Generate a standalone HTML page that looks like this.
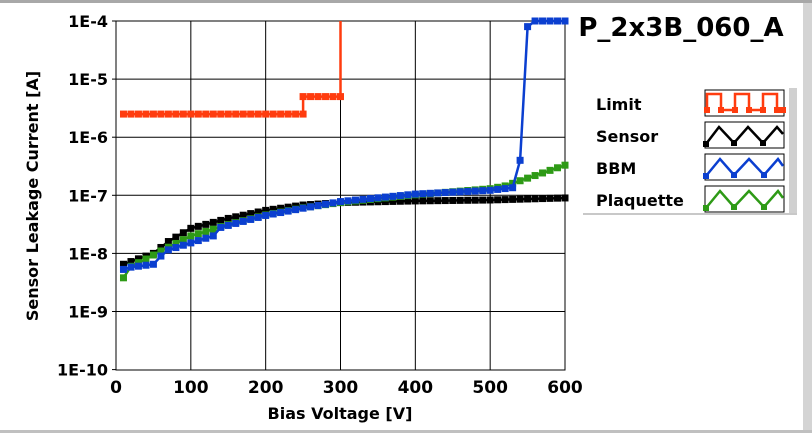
<!DOCTYPE html>
<html><head><meta charset="utf-8"><style>
html,body{margin:0;padding:0;background:#fff;}
svg{display:block;font-family:"DejaVu Sans","Liberation Sans",sans-serif;font-weight:bold;}
</style></head><body>
<svg id="s" width="812" height="433" xmlns="http://www.w3.org/2000/svg">
<rect x="0" y="0" width="812" height="3" fill="#a8a8a8"/>
<rect x="803" y="3" width="9" height="430" fill="#d4d4d4"/>
<rect x="0" y="430" width="812" height="3" fill="#c0c0c0"/>
<g id="grid"></g>
<rect x="116" y="21" width="449" height="349" fill="none" stroke="#000" stroke-width="1"/>
<g id="ser"></g>
<g font-size="16" text-anchor="end" id="yl"></g>
<g font-size="17" text-anchor="middle" id="xl"></g>
<text x="340" y="419" font-size="16" text-anchor="middle">Bias Voltage [V]</text>
<text transform="translate(38,196) rotate(-90)" font-size="16" text-anchor="middle">Sensor Leakage Current [A]</text>
<text x="681" y="36" font-size="26" text-anchor="middle">P_2x3B_060_A</text>
<rect x="583" y="88" width="206" height="127" fill="#fff"/>
<rect x="789" y="88" width="8" height="126" fill="#d0d0d0"/>
<rect x="583" y="213" width="214" height="2" fill="#c8c8c8"/>
<g font-size="16">
<text x="596" y="110">Limit</text>
<text x="596" y="142">Sensor</text>
<text x="596" y="174">BBM</text>
<text x="596" y="206">Plaquette</text>
</g>
<g id="leg"></g>
</svg>
<script>
const X=v=>116+v*449/600, Y=v=>21+(-4-Math.log10(v))*58.1;
const ns="http://www.w3.org/2000/svg";
function el(p,t,a){const e=document.createElementNS(ns,t);for(const k in a)e.setAttribute(k,a[k]);p.appendChild(e);return e;}
const g=document.getElementById('grid');
for(let i=1;i<6;i++)el(g,'line',{x1:X(i*100),x2:X(i*100),y1:21,y2:370,stroke:'#000','stroke-width':1});
for(let d=-9;d<=-5;d++)el(g,'line',{x1:116,x2:565,y1:Y(10**d),y2:Y(10**d),stroke:'#000','stroke-width':1});
const yl=document.getElementById('yl');
for(let d=-4;d>=-10;d--){const t=el(yl,'text',{x:108,y:Y(10**d)+6});t.textContent='1E'+d;el(yl,'line',{x1:112,x2:116,y1:Y(10**d),y2:Y(10**d),stroke:'#000'});}
const xl=document.getElementById('xl');
for(let i=0;i<=6;i++){const t=el(xl,'text',{x:X(i*100),y:393});t.textContent=i*100;}
function interp(pts,v){for(let i=0;i<pts.length-1;i++){const[a,ya]=pts[i],[b,yb]=pts[i+1];if(v>=a&&v<=b){const f=(v-a)/(b-a);return 10**(Math.log10(ya)+f*(Math.log10(yb)-Math.log10(ya)));}}return pts[pts.length-1][1];}
const sr=document.getElementById('ser');
function series(data,col){let d='';data.forEach(([v,i],k)=>{d+=(k?'L':'M')+X(v).toFixed(1)+','+Math.max(21,Y(i)).toFixed(1);});
el(sr,'path',{d:d,fill:'none',stroke:col,'stroke-width':2.5});
data.forEach(([v,i])=>{const y=Math.max(21,Y(i));el(sr,'rect',{x:X(v)-3.5,y:y-3.5,width:7,height:7,fill:col});});}
let lim=[];for(let v=10;v<=250;v+=10)lim.push([v,2.5e-6]);lim.push([250,5e-6]);for(let v=260;v<=300;v+=10)lim.push([v,5e-6]);
const sens=[[10,6.5e-9],[50,1e-8],[70,1.6e-8],[100,2.7e-8],[150,4e-8],[200,5.5e-8],[250,6.8e-8],[300,7.5e-8],[400,8e-8],[500,8.3e-8],[600,9e-8]];
const bbm=[[10,5.3e-9],[20,5.8e-9],[50,6.5e-9],[60,9e-9],[70,1.15e-8],[130,2e-8],[140,2.8e-8],[200,4.5e-8],[250,6e-8],[300,7.8e-8],[400,1.05e-7],[500,1.22e-7],[530,1.35e-7]];
const pl=[[10,3.8e-9],[20,6e-9],[40,8e-9],[60,1.1e-8],[100,2e-8],[130,2.6e-8],[140,2.9e-8],[200,4.6e-8],[250,6.1e-8],[300,7.5e-8],[400,1.02e-7],[500,1.3e-7],[520,1.45e-7],[600,3.3e-7]];
let P=[],B=[],S=[];
for(let v=10;v<=600;v+=10){S.push([v,interp(sens,v)]);P.push([v,interp(pl,v)]);if(v<=530)B.push([v,interp(bbm,v)]);}
B.push([540,4e-7],[550,8e-5]);for(let v=560;v<=600;v+=10)B.push([v,1e-4]);
series(S,'#000');series(P,'#2e9a16');series(B,'#0b3fd0');series(lim,'#ff3c0f');
el(sr,'line',{x1:X(300),x2:X(300),y1:21,y2:Y(5e-6),stroke:'#ff3c0f','stroke-width':2.5});
const lg=document.getElementById('leg');
const sw=[[90,'#ff3c0f','sq'],[122,'#000','tri'],[154,'#0b3fd0','tri2'],[186,'#2e9a16','tri2']];
sw.forEach(([y,c,t])=>{el(lg,'rect',{x:705,y:y,width:79,height:26,fill:'#fff',stroke:'#000','stroke-width':1});
let pts;if(t=='sq')pts=[[707,20],[707,4],[721,4],[721,20],[735,20],[735,4],[749,4],[749,20],[763,20],[763,4],[777,4],[777,20],[783,20]];
else if(t=='tri')pts=[[706,22],[719,5],[734,21],[748,5],[763,21],[777,5],[783,12]];
else pts=[[706,22],[720,5],[734,21],[749,5],[764,21],[778,5],[783,12]];
el(lg,'polyline',{points:pts.map(p=>p[0]+','+(p[1]+y)).join(' '),fill:'none',stroke:c,'stroke-width':2.5});
pts.forEach(p=>{if(p[1]>18)el(lg,'rect',{x:p[0]-3,y:p[1]+y-3,width:6,height:6,fill:c});});});
</script>
</body></html>
